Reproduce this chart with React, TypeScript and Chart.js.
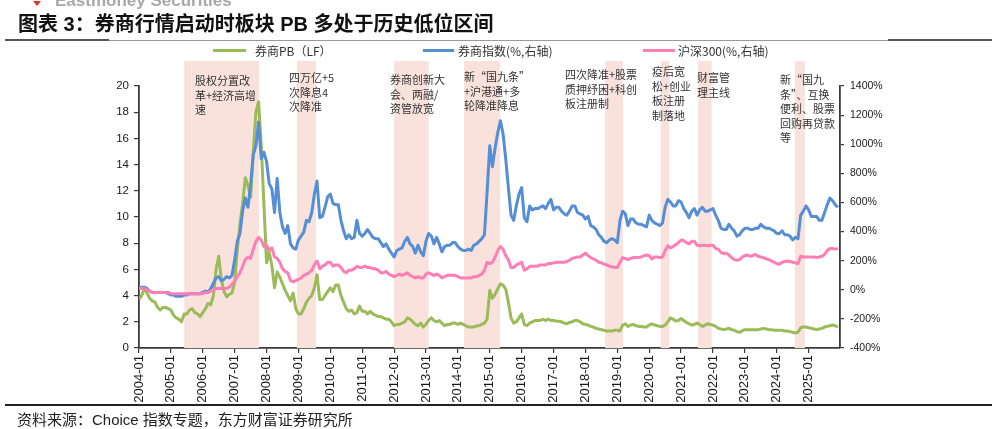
import React, { useEffect, useRef } from 'react';
import { Chart, registerables } from 'chart.js';
Chart.register(...registerables);

// x tick labels (one per January)
const xTickLabels = [
  '2004-01','2005-01','2006-01','2007-01','2008-01','2009-01','2010-01','2011-01',
  '2012-01','2013-01','2014-01','2015-01','2016-01','2017-01','2018-01','2019-01',
  '2020-01','2021-01','2022-01','2023-01','2024-01','2025-01',
];

// 券商PB（LF）, monthly 2004-01 .. 2025-12 (left axis)
const brokerPB = [
  3.7, 4.0, 4.5, 4.2, 3.8, 3.6, 3.5, 3.1, 2.9, 3.1, 3.1, 3.0,
  2.9, 2.5, 2.3, 2.2, 2.0, 2.6, 2.6, 2.9, 3.0, 2.7, 2.6, 2.4,
  2.7, 3.0, 3.4, 3.3, 4.0, 6.0, 7.0, 5.2, 4.3, 3.9, 4.1, 4.2,
  5.0, 7.5, 9.5, 11.0, 13.0, 12.4, 11.5, 15.0, 18.0, 18.8, 15.5, 11.0,
  6.5, 7.3, 6.3, 4.6, 5.8, 5.4, 4.9, 4.4, 4.0, 3.6, 4.2, 3.0,
  2.6, 2.6, 3.0, 3.5, 3.8, 4.0, 4.6, 5.6, 3.7, 3.7, 4.0, 4.3,
  4.6, 4.3, 4.8, 4.8, 4.0, 3.5, 3.0, 2.8, 2.9, 2.6, 2.7, 3.2,
  2.8, 2.8, 2.6, 2.8, 2.6, 2.5, 2.4, 2.4, 2.3, 2.2, 2.2, 2.0,
  1.7, 1.8, 1.8, 1.9, 2.0, 2.3, 2.2, 2.0, 1.8, 1.7, 1.9, 1.6,
  1.8, 2.1, 2.3, 2.1, 2.0, 2.1, 1.9, 1.7, 1.8, 1.8, 1.9, 1.9,
  1.8, 1.9, 1.8, 1.7, 1.6, 1.6, 1.6, 1.7, 1.7, 1.8, 1.9, 2.2,
  4.4, 3.8, 4.1, 4.5, 4.9, 4.8, 4.5, 3.5, 2.3, 1.9, 2.0, 2.3,
  2.6, 1.8, 1.7, 1.9, 2.0, 2.1, 2.1, 2.1, 2.2, 2.1, 2.2, 2.1,
  2.1, 2.05, 2.05, 2.0, 1.9, 1.85, 1.95, 2.0, 2.1, 2.1, 2.0, 1.85,
  1.8, 1.75, 1.65, 1.6, 1.5, 1.45, 1.4, 1.35, 1.3, 1.3, 1.3, 1.35,
  1.35, 1.3, 1.75, 1.85, 1.65, 1.75, 1.8, 1.7, 1.65, 1.65, 1.6, 1.6,
  1.75, 1.85, 1.75, 1.7, 1.65, 1.65, 1.75, 2.0, 2.3, 2.2, 2.05, 2.1,
  2.25, 2.1, 1.95, 1.85, 1.75, 1.8, 1.9, 1.8, 1.65, 1.75, 1.85, 1.8,
  1.75, 1.65, 1.5, 1.45, 1.4, 1.45, 1.5, 1.4, 1.35, 1.25, 1.2, 1.3,
  1.4, 1.4, 1.4, 1.4, 1.4, 1.4, 1.45, 1.5, 1.45, 1.4, 1.4, 1.35,
  1.35, 1.35, 1.35, 1.3, 1.3, 1.25, 1.2, 1.15, 1.2, 1.55, 1.6, 1.6,
  1.55, 1.5, 1.45, 1.4, 1.45, 1.5, 1.6, 1.65, 1.7, 1.75, 1.7, 1.6,
];

// 券商指数 (%, right axis)
const brokerIndex = [
  9, 18, 18, 9, -9, -18, -18, -18, -18, -18, -18, -27,
  -36, -36, -45, -45, -45, -36, -36, -27, -27, -27, -27, -27,
  -18, -9, -18, 9, 45, 81, 90, 63, 72, 90, 81, 99,
  207, 333, 387, 540, 630, 567, 720, 927, 990, 1152, 900, 945,
  882, 729, 693, 531, 765, 531, 432, 387, 441, 315, 288, 279,
  342, 369, 396, 477, 468, 531, 657, 747, 495, 504, 567, 639,
  657, 594, 585, 585, 477, 405, 351, 378, 351, 360, 477, 387,
  369, 387, 414, 387, 360, 351, 351, 324, 297, 315, 279, 252,
  225, 270, 279, 288, 333, 360, 315, 297, 252, 306, 261, 234,
  333, 387, 369, 315, 360, 315, 261, 297, 306, 306, 324, 324,
  297, 279, 270, 270, 279, 270, 306, 315, 333, 351, 378, 675,
  990, 846, 972, 1080, 1161, 1071, 900, 702, 513, 477, 576, 657,
  702, 495, 468, 576, 549, 558, 558, 567, 576, 558, 594, 621,
  549, 567, 567, 540, 522, 513, 540, 576, 576, 531, 522, 513,
  486, 504, 441, 432, 414, 378, 360, 333, 324, 342, 351, 342,
  324, 477, 540, 522, 441, 486, 486, 459, 450, 450, 441, 432,
  513, 477, 459, 450, 441, 459, 567, 621, 603, 576, 576, 612,
  603, 558, 531, 495, 540, 558, 513, 549, 567, 540, 540, 549,
  558, 513, 477, 423, 414, 414, 450, 423, 405, 369, 378, 405,
  423, 423, 414, 414, 423, 423, 450, 432, 423, 423, 414, 405,
  387, 387, 405, 378, 378, 369, 342, 360, 351, 513, 540, 576,
  549, 504, 504, 504, 477, 477, 531, 585, 630, 612, 585, 567,
];

// 沪深300 (%, right axis)
const hs300 = [
  9, 9, 9, 0, -9, -18, -18, -18, -18, -18, -18, -18,
  -27, -27, -27, -27, -27, -27, -27, -27, -27, -27, -27, -27,
  -27, -18, -18, -9, 0, 9, 9, 9, 9, 9, 18, 36,
  63, 90, 117, 162, 207, 225, 216, 279, 333, 360, 342, 297,
  306, 270, 288, 225, 216, 189, 144, 126, 117, 63, 54, 63,
  72, 81, 99, 108, 117, 135, 171, 198, 144, 162, 171, 189,
  189, 162, 171, 171, 153, 126, 117, 135, 135, 144, 162, 153,
  153, 162, 153, 153, 144, 144, 135, 117, 117, 126, 108, 99,
  90, 99, 108, 99, 108, 117, 99, 90, 81, 90, 81, 81,
  108, 117, 108, 99, 108, 99, 81, 90, 99, 99, 99, 99,
  90, 81, 81, 81, 81, 81, 90, 90, 99, 108, 135, 189,
  180, 189, 225, 270, 297, 279, 234, 207, 153, 153, 171, 180,
  189, 135, 144, 162, 162, 162, 162, 171, 171, 171, 180, 180,
  185, 189, 189, 189, 189, 194, 203, 216, 221, 225, 225, 239,
  252, 234, 221, 212, 203, 189, 185, 176, 171, 162, 158, 153,
  153, 189, 221, 216, 207, 216, 221, 221, 221, 225, 234, 239,
  234, 212, 225, 225, 221, 225, 270, 302, 288, 297, 311, 324,
  342, 338, 324, 315, 333, 333, 306, 302, 306, 306, 302, 306,
  306, 284, 279, 257, 248, 252, 239, 221, 207, 203, 207, 225,
  234, 239, 230, 234, 243, 230, 225, 221, 212, 207, 198, 189,
  180, 176, 189, 194, 198, 194, 189, 185, 180, 230, 225, 225,
  225, 225, 225, 221, 225, 230, 243, 270, 284, 284, 279, 284,
];

// shaded policy periods (start, end)
const shadeStarts = ['2005-06-01', '2008-12-13', '2012-01-01', '2014-03-10', '2018-08-13', '2020-05-10', '2021-07-13', '2024-07-25'];
const shadeEnds = ['2007-10-04', '2009-07-19', '2013-02-01', '2015-04-28', '2019-03-04', '2020-08-20', '2021-12-15', '2024-11-18'];

const noteTexts = [
  ['股权分置改', '革+经济高增', '速'],
  ['四万亿+5', '次降息4', '次降准'],
  ['券商创新大', '会、两融/', '资管放宽'],
  ['新“国九条”', '+沪港通+多', '轮降准降息'],
  ['四次降准+股票', '质押纾困+科创', '板注册制'],
  ['疫后宽', '松+创业', '板注册', '制落地'],
  ['财富管', '理主线'],
  ['新“国九', '条”、互换', '便利、股票', '回购再贷款', '等'],
];
const notePos = [
  [195, 73], [289, 70], [390, 72], [464, 69], [565, 67], [652, 64], [697, 70], [780, 72],
];

const START_YEAR = 2004;
const toMonthIndex = (s: string) => {
  const [y, m, d] = s.split('-').map(Number);
  return (y - START_YEAR) * 12 + (m - 1) + (d - 1) / 30;
};

const GREEN = '#9BBB59';
const BLUE = '#558ED5';
const PINK = '#FF7EB6';
const SHADE = '#F9E2DC';
const AXIS = '#3a3a3a';
const CJK = '"Noto Sans CJK SC", sans-serif';
const LATIN = '"Liberation Sans", Arial, "Noto Sans CJK SC", sans-serif';

const shadePlugin = {
  id: 'shadePeriods',
  beforeDatasetsDraw(chart: any) {
    const { ctx, chartArea, scales } = chart;
    const xs = scales.x;
    ctx.save();
    ctx.fillStyle = SHADE;
    for (let i = 0; i < shadeStarts.length; i++) {
      const x0 = xs.getPixelForValue(toMonthIndex(shadeStarts[i]));
      const x1 = xs.getPixelForValue(toMonthIndex(shadeEnds[i]));
      const top = chartArea.top - 25;
      ctx.fillRect(x0, top, x1 - x0, chartArea.bottom - top);
    }
    ctx.restore();
  },
};

export default function App() {
  const ref = useRef<HTMLCanvasElement>(null);
  useEffect(() => {
    const months = brokerPB.map((_, i) => i);
    const chart = new Chart(ref.current!, {
      type: 'line',
      data: {
        labels: months,
        datasets: [
          { label: '沪深300(%,右轴)', data: hs300, yAxisID: 'y1', borderColor: PINK, borderWidth: 3, pointRadius: 0, tension: 0, order: 0, borderJoinStyle: 'round' },
          { label: '券商指数(%,右轴)', data: brokerIndex, yAxisID: 'y1', borderColor: BLUE, borderWidth: 3, pointRadius: 0, tension: 0, order: 1, borderJoinStyle: 'round' },
          { label: '券商PB（LF）', data: brokerPB, yAxisID: 'y', borderColor: GREEN, borderWidth: 3, pointRadius: 0, tension: 0, order: 2, borderJoinStyle: 'round' },
        ],
      },
      options: {
        responsive: false,
        animation: false,
        layout: { padding: { top: 86, left: 0, right: 0, bottom: 0 } },
        plugins: { legend: { display: false }, tooltip: { enabled: false }, title: { display: false } },
        scales: {
          x: {
            type: 'linear',
            min: 0,
            max: 263.8,
            afterFit: (s: any) => { s.height = 81; },
            afterBuildTicks: (s: any) => { s.ticks = xTickLabels.map((_, i) => ({ value: i * 12 })); },
            grid: { display: true, drawOnChartArea: false, drawTicks: true, tickLength: 5, color: AXIS, lineWidth: 1.2 },
            border: { display: true, color: AXIS, width: 1.8 },
            ticks: {
              autoSkip: false,
              minRotation: 90,
              maxRotation: 90,
              padding: 2,
              color: '#1a1a1a',
              font: { family: LATIN, size: 13 },
              callback: (v: any) => xTickLabels[Math.round(Number(v) / 12)] ?? '',
            },
          },
          y: {
            position: 'left',
            min: 0,
            max: 20,
            afterFit: (s: any) => { s.width = 139; },
            grid: { display: true, drawOnChartArea: false, drawTicks: true, tickLength: 5, color: AXIS, lineWidth: 1.2 },
            border: { display: true, color: AXIS, width: 1.8 },
            ticks: { stepSize: 2, padding: 5, color: '#1a1a1a', font: { family: LATIN, size: 11.5 } },
          },
          y1: {
            position: 'right',
            min: -400,
            max: 1400,
            afterFit: (s: any) => { s.width = 157; },
            grid: { display: true, drawOnChartArea: false, drawTicks: true, tickLength: 4, color: AXIS, lineWidth: 1.2 },
            border: { display: true, color: AXIS, width: 1.8 },
            ticks: { stepSize: 200, padding: 6, color: '#1a1a1a', font: { family: LATIN, size: 10.5 }, callback: (v: any) => `${v}%` },
          },
        },
      },
      plugins: [shadePlugin],
    });
    return () => chart.destroy();
  }, []);

  const abs = (s: any): React.CSSProperties => ({ position: 'absolute', whiteSpace: 'nowrap', ...s });

  return (
    <div style={{ position: 'absolute', left: 0, top: 0, width: 997, height: 429, overflow: 'hidden', background: '#fff' }}>
      <canvas ref={ref} width={997} height={429} style={{ position: 'absolute', left: 0, top: 0, width: 997, height: 429 }} />
      {/* header brand (cut off at top) */}
      <div style={abs({ left: 33, top: 1, width: 0, height: 0, borderLeft: '4px solid transparent', borderRight: '4px solid transparent', borderTop: '5px solid #D9362B' })} />
      <div style={abs({ left: 55, top: -8, fontFamily: LATIN, fontWeight: 'bold', fontSize: 17, lineHeight: '17px', color: '#A8A8A8' })}>Eastmoney Securities</div>
      {/* title */}
      <div style={abs({ left: 18, top: 13, fontFamily: LATIN, fontWeight: 'bold', fontSize: 20, lineHeight: '22px', color: '#111' })}>图表 3：券商行情启动时板块 PB 多处于历史低位区间</div>
      <div style={abs({ left: 5, top: 39.5, width: 987, height: 1, background: '#9a9a9a' })} />
      <div style={abs({ left: 5, top: 39, width: 104, height: 2, background: '#555' })} />
      <div style={abs({ left: 888, top: 39, width: 104, height: 2, background: '#555' })} />
      {/* legend */}
      <div style={abs({ left: 213, top: 49, width: 33, height: 3, background: GREEN })} />
      <div style={abs({ left: 255, top: 43, fontFamily: CJK, fontSize: 12, lineHeight: '16px', color: '#333' })}>券商PB（LF）</div>
      <div style={abs({ left: 423, top: 49, width: 31, height: 3, background: BLUE })} />
      <div style={abs({ left: 458, top: 43, fontFamily: CJK, fontSize: 12, lineHeight: '16px', color: '#333' })}>券商指数(%,右轴)</div>
      <div style={abs({ left: 643, top: 49, width: 32, height: 3, background: PINK })} />
      <div style={abs({ left: 678, top: 43, fontFamily: CJK, fontSize: 12, lineHeight: '16px', color: '#333' })}>沪深300(%,右轴)</div>
      {/* annotations */}
      {noteTexts.map((lines, i) => (
        <div key={i} style={abs({ left: notePos[i][0], top: notePos[i][1], fontFamily: CJK, fontSize: 11, lineHeight: '14.5px', color: '#333' })}>
          {lines.map((l, j) => <div key={j}>{l}</div>)}
        </div>
      ))}
      {/* footer */}
      <div style={abs({ left: 5, top: 404, width: 987, height: 1.5, background: '#222' })} />
      <div style={abs({ left: 17, top: 411, fontFamily: LATIN, fontSize: 15, lineHeight: '18px', color: '#222' })}>资料来源：Choice 指数专题，东方财富证券研究所</div>
    </div>
  );
}
